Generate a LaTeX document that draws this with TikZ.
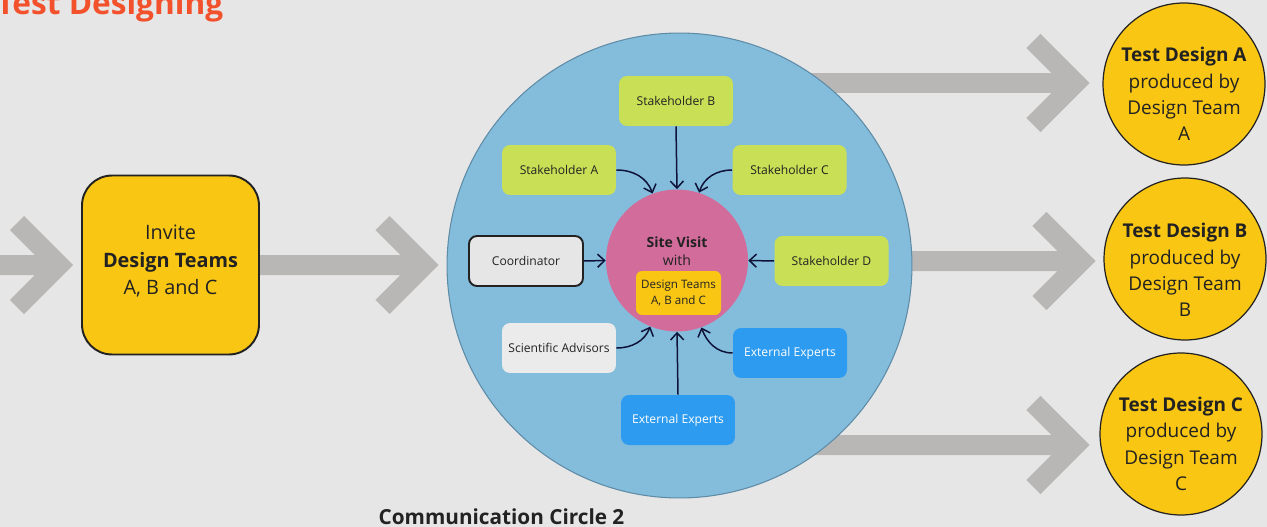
\documentclass[tikz,border=0pt]{standalone}
\usepackage{fontspec}
\setmainfont{Open Sans}
\usepackage{tikz}
\usetikzlibrary{
  arrows.meta, positioning, calc, backgrounds
}
\usepackage{xcolor}
\definecolor{pagegray}{RGB}{230,230,230}
\definecolor{titlered}{RGB}{242,81,43}
\definecolor{teamyellow}{RGB}{249,198,20}
\definecolor{shaftgray}{RGB}{184,183,181}
\definecolor{circblue}{RGB}{132,189,220}
\definecolor{circedge}{RGB}{94,139,166}
\definecolor{visitpink}{RGB}{210,108,155}
\definecolor{stakegreen}{RGB}{201,223,85}
\definecolor{expertblue}{RGB}{45,155,239}
\definecolor{advisorgray}{RGB}{235,235,235}
\definecolor{linknavy}{RGB}{14,18,56}
\definecolor{textdark}{RGB}{34,34,34}

\tikzset{
  player/.style={rectangle, rounded corners=0.16cm, minimum width=2.28cm,
    minimum height=1cm, inner sep=0pt, text=textdark,
    font=\fontsize{6.9}{8.5}\selectfont},
  stake/.style={player, fill=stakegreen},
  expert/.style={player, fill=expertblue, text=white},
  advisor/.style={player, fill=advisorgray},
  coordbox/.style={player, fill=pagegray, draw=textdark, line width=1.1pt},
  link/.style={draw=linknavy, line width=0.85pt,
    -{Straight Barb[length=4pt,width=7.5pt]}},
  result/.style={circle, draw=textdark, line width=0.7pt, fill=teamyellow,
    minimum size=3.24cm, inner sep=0pt},
  restext/.style={align=center, text=textdark, inner sep=0pt,
    font=\fontsize{10.8}{15}\selectfont},
  grayarrow/.style={draw=shaftgray, line width=0.4cm, line join=miter}
}
\newcommand{\bigarrow}[2]{\draw[grayarrow] (#1) -- (#2) ++(-42,-42) -- (#2) -- ++(-42,42);}

\begin{document}
\begin{tikzpicture}[x=0.02cm, y=-0.02cm]
  \useasboundingbox (0,0) rectangle (1267,527);

  \node[anchor=base west, inner sep=0pt, text=titlered,
        font=\fontsize{18}{20}\selectfont\bfseries] (title) at (-4,15) {Test Designing};

  % invite step
  \node[rectangle, rounded corners=0.6cm, fill=teamyellow, draw=textdark,
        line width=1.1pt, minimum width=3.54cm, minimum height=3.58cm,
        align=center, text=textdark, font=\fontsize{11.3}{15.9}\selectfont]
        (invite) at (170.5,265) {};
  \node[align=center, text=textdark, inner sep=0pt,
        font=\fontsize{11.3}{15.9}\selectfont] (invitetext) at (170.5,261)
        {Invite\\\textbf{Design Teams}\\A, B and C};

  % communication circle
  \node[circle, fill=circblue, draw=circedge, line width=0.6pt,
        minimum size=9.3cm] (comm) at (679.5,265.5) {};
  \node[circle, fill=visitpink, minimum size=2.84cm] (visit) at (677,260.5) {};
  \node[align=center, text=textdark, inner sep=0pt,
        font=\fontsize{8}{10.4}\selectfont] (visittext) at (677,251)
        {\textbf{Site Visit}\\with};
  \node[rectangle, rounded corners=0.12cm, fill=teamyellow, minimum width=1.7cm,
        minimum height=0.88cm, align=center, text=textdark, inner sep=0pt,
        font=\fontsize{6.6}{9.6}\selectfont] (teams) at (678.5,293)
        {Design Teams\\A, B and C};

  \node[stake] (stB) at (676,101) {Stakeholder B};
  \node[stake] (stA) at (559,170) {Stakeholder A};
  \node[stake] (stC) at (789.5,170) {Stakeholder C};
  \node[coordbox] (coord) at (526,261) {Coordinator};
  \node[stake] (stD) at (831.5,261) {Stakeholder D};
  \node[advisor] (advisor) at (559,348) {Scientific Advisors};
  \node[expert] (extR) at (790,353) {External Experts};
  \node[expert] (extB) at (678,420) {External Experts};

  \draw[link] (stB.south) -- (visit.north);
  \draw[link] (stA.east) to[out=0,in=110] (visit.110);
  \draw[link] (stC.west) to[out=180,in=72] (visit.72);
  \draw[link] (coord.east) -- (visit.west);
  \draw[link] (stD.west) -- (visit.east);
  \draw[link] (advisor.east) to[out=0,in=-112] (visit.-112);
  \draw[link] (extR.west) to[out=180,in=-70] (visit.-70);
  \draw[link] (extB.north) -- (visit.south);

  \node[anchor=base, inner sep=0pt, text=textdark,
        font=\fontsize{11.8}{14}\selectfont\bfseries] (caption) at (501.5,524)
        {Communication Circle 2};

  % produced test designs
  \node[result] (tdA) at (1184,84) {};
  \node[result] (tdB) at (1185,259) {};
  \node[result] (tdC) at (1181,434) {};
  \node[restext] at ($(tdA.center)+(0,10)$) {\textbf{Test Design A}\\produced by\\Design Team\\A};
  \node[restext] at ($(tdB.center)+(0,11)$) {\textbf{Test Design B}\\produced by\\Design Team\\B};
  \node[restext] at ($(tdC.center)+(0,10)$) {\textbf{Test Design C}\\produced by\\Design Team\\C};

  \coordinate (entry) at (0,265);
  \coordinate (entrytip) at (59,265);
  \coordinate (commtip) at ($(comm.west)+(-22,-0.5)$);
  \coordinate (tipA) at ($(tdA.west)+(-27,-1)$);
  \coordinate (tipB) at ($(tdB.west)+(-22,2)$);
  \coordinate (tipC) at ($(tdC.west)+(-24,11)$);

  \begin{scope}[on background layer]
    \fill[pagegray] (0,0) rectangle (1267,527);
    \bigarrow{entry}{entrytip}
    \bigarrow{invite.east |- commtip}{commtip}
    \bigarrow{comm.center |- tipA}{tipA}
    \bigarrow{comm.center |- tipB}{tipB}
    \bigarrow{comm.center |- tipC}{tipC}
  \end{scope}
\end{tikzpicture}
\end{document}
